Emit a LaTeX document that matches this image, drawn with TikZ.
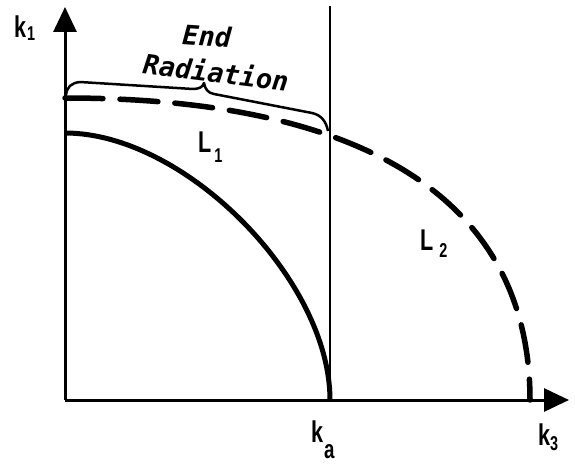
\documentclass[tikz,border=0pt]{standalone}
\usepackage{fontspec}
\setmainfont{Liberation Sans}
\newfontfamily\bracefont{DejaVu Sans Mono}
\usetikzlibrary{arrows.meta}
\newcommand\lab[5]{{\fontsize{30}{30}\selectfont\bfseries\scalebox{0.72}[1]{#1}\kern#4\raisebox{-#3}{\fontsize{#5}{#5}\selectfont\bfseries\scalebox{0.72}[1]{#2}}}}
\tikzset{
  axis/.style={line width=3pt,-{Triangle[length=25pt,width=23pt]}},
  curveL/.style={line width=5pt},
  dashL/.style={line width=5.5pt,line cap=round,dash pattern=on 38pt off 17pt},
  lbl/.style={inner sep=0pt,anchor=base west},
  ttl/.style={inner sep=0pt,font=\bracefont\bfseries\itshape\fontsize{27}{27}\selectfont}
}
\begin{document}
\begin{tikzpicture}[x=1pt,y=-1pt]
\useasboundingbox (0,0) rectangle (575,465);
\coordinate (O) at (65,400);
\coordinate (Ytop) at (65,7);
\coordinate (Xend) at (569,400);
\coordinate (Vtop) at (330,6);
\coordinate (Ka) at (330,400);
\coordinate (L1s) at (65,133);
\coordinate (L2s) at (65,98);
\coordinate (L2e) at (530,400);
\coordinate (Bl) at (66,95);
\coordinate (Br) at (328,131);
% axes
\draw[axis] (O) -- (Ytop);
\draw[axis] (O) -- (Xend);
% vertical line at k_a
\draw[line width=2pt] (Ka) -- (Vtop);
% L1 solid curve
\draw[curveL] (L1s) .. controls (185,133) and (330,280) .. (Ka);
% L2 dashed curve
\draw[dashL] (L2s) .. controls (365,98) and (530,200) .. (L2e);
% brace
\draw[line width=2.5pt,line join=round] (Bl) .. controls (67,87) and (71,83) .. (80,82)
  -- (193,89) .. controls (199,89) and (203,87) .. (204,83)
  .. controls (205,89) and (208,93) .. (214,94)
  -- (312,113) .. controls (321,115) and (326,121) .. (Br);
% titles
\node[ttl,rotate=-4] (end) at (207,36) {End};
\node[ttl,rotate=-7] (rad) at (216,72) {Radiation};
% labels
\node[lbl] (k1) at (14,38) {\lab{k}{1}{3pt}{1pt}{20}};
\node[lbl] (l1) at (198,153) {\lab{L}{1}{10pt}{3pt}{20}};
\node[lbl] (l2) at (420,250) {\lab{L}{2}{7pt}{6pt}{20}};
\node[lbl] (ka) at (311,442) {\lab{k}{a}{16pt}{1pt}{26}};
\node[lbl] (k3) at (538,445) {\lab{k}{3}{5pt}{0pt}{20}};
\end{tikzpicture}
\end{document}
